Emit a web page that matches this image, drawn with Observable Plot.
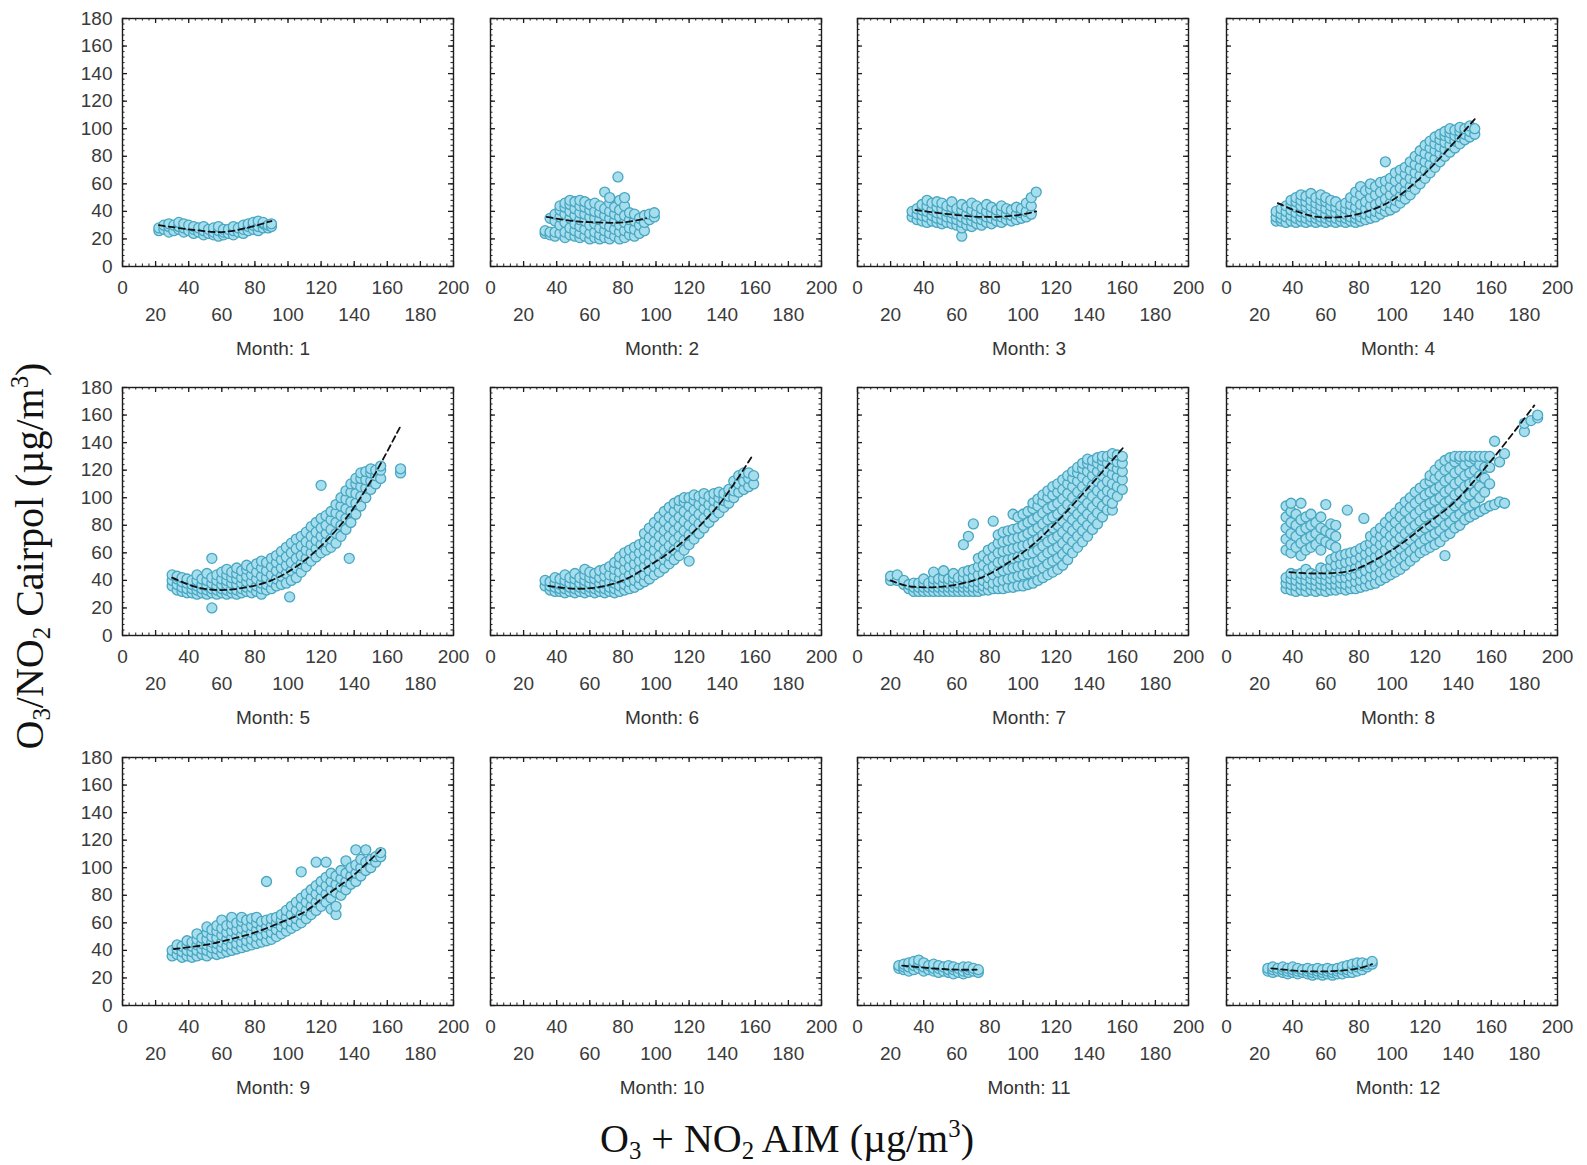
<!DOCTYPE html>
<html>
<head>
<meta charset="utf-8">
<script src="https://cdn.jsdelivr.net/npm/d3@7"></script>
<script src="https://cdn.jsdelivr.net/npm/@observablehq/plot@0.6"></script>
<style>
  body { margin: 0; background: #fff; }
  #fig { position: relative; width: 1587px; height: 1165px; background: #fff; overflow: hidden; }
  .panel { position: absolute; }
  .title { position: absolute; font-family: "Liberation Serif", "Times New Roman", serif; font-size: 40px; color: #111; white-space: nowrap; line-height: 1.25; }
  .title sub { font-size: 0.62em; vertical-align: -0.3em; line-height: 0; }
  .title sup { font-size: 0.62em; vertical-align: 0.6em; line-height: 0; }
</style>
</head>
<body>
<div id="fig"></div>
<script>
// Tick values shared by every panel
const xTicksTop = [0, 40, 80, 120, 160, 200];
const xTicksBottom = [20, 60, 100, 140, 180];
const yTicks = [0, 20, 40, 60, 80, 100, 120, 140, 160, 180];

// Observations per month: [O3+NO2 AIM, [O3/NO2 Cairpol values at that AIM level]]
const month1 = [
  [22,[26,28]],[25,[27,30]],[28,[25,29,31]],[31,[26,30]],[34,[27,29,32]],[37,[25,28,31]],
  [40,[26,30]],[43,[24,27,29]],[46,[25,28]],[49,[23,26,29]],[52,[24,27]],[55,[23,25,28]],
  [58,[22,26,29]],[61,[23,25,27]],[64,[24,27]],[67,[23,26,29]],[70,[25,28]],[73,[24,27,30]],
  [76,[26,29,31]],[79,[27,30,32]],[82,[26,29,33]],[85,[28,31,32]],[88,[28,30]],[90,[29,31]]
];
const month2 = [
  [33,[24,26]],[36,[23,25,35]],[39,[22,25,33,38]],[42,[24,30,36,41,44]],[45,[21,25,32,38,43,46]],
  [48,[23,28,35,40,45,48]],[51,[22,26,31,37,42,47]],[54,[21,24,29,34,39,44,48]],[57,[22,27,33,38,43,47]],
  [60,[20,24,30,36,41,45]],[63,[21,25,31,35,40,46]],[66,[20,23,28,34,39,44]],[69,[21,26,31,37,42,54]],
  [72,[20,24,29,35,40,46,50]],[75,[22,27,33,38,43]],[77,[65]],[78,[20,25,30,36,41,48]],[81,[21,26,32,37,44,50]],
  [84,[23,28,34,39]],[87,[22,27,33,38]],[90,[24,30,35]],[93,[26,32,37]],[96,[34,38]],[99,[36,39]]
];
const month3 = [
  [33,[36,40]],[36,[34,38,42]],[39,[33,37,41,45]],[42,[32,36,40,44,48]],[45,[33,37,41,46]],
  [48,[32,35,39,43,47]],[51,[31,34,38,42,46]],[54,[32,36,40,44]],[57,[31,35,39,43,47]],
  [60,[30,34,38,42]],[63,[22,28,32,36,41,45]],[66,[30,34,38,43]],[69,[29,33,37,41,46]],
  [72,[31,35,39,44]],[75,[30,34,38,42]],[78,[32,36,40,45]],[81,[31,35,39,43]],[84,[33,37,41]],
  [87,[32,36,40,44]],[90,[34,38,42]],[93,[33,37,41]],[96,[34,38,43]],[99,[35,39,42]],
  [102,[36,40,46]],[105,[38,44,50]],[108,[54]]
];
const month4 = [
  [30,[33,36,40]],[33,[33,35,38,42]],[36,[32,36,40,44]],[39,[33,37,41,45,48]],[42,[32,35,39,43,47,50]],
  [45,[33,36,40,44,48,52]],[48,[32,35,39,43,47,51]],[51,[33,36,40,44,48,53]],[54,[32,35,38,42,46,50]],
  [57,[33,36,40,44,48,52]],[60,[32,35,38,42,47,50]],[63,[33,36,40,44,48]],[66,[32,35,39,43,47]],
  [69,[33,36,40,44]],[72,[32,35,38,42,46]],[75,[33,36,40,45,50]],[78,[32,35,38,43,48,54]],
  [81,[33,36,40,45,52,58]],[84,[34,38,42,47,55]],[87,[35,39,44,50,56,60]],[90,[36,40,45,52,58]],
  [93,[38,42,47,54,61]],[96,[40,44,49,56,62,76]],[99,[41,46,52,58,64]],[102,[43,48,55,62,68]],
  [105,[46,51,57,64,70]],[108,[49,55,61,67,72]],[111,[52,58,64,70,76]],[114,[56,62,68,74,80]],
  [117,[60,66,72,78,84]],[120,[64,70,76,82,88]],[123,[68,74,80,86,91]],[126,[72,78,84,89,94]],
  [129,[76,82,87,92,96]],[132,[80,85,90,95,98]],[135,[83,88,93,97,100]],[138,[86,91,95,99]],
  [141,[89,94,98,101]],[144,[92,96,100]],[147,[94,98,102]],[150,[96,100]]
];
const month5 = [
  [30,[36,40,44]],[33,[33,37,41,43]],[36,[32,35,39,42]],[39,[31,34,38,41]],[42,[31,34,37,40]],
  [45,[30,33,36,40,44]],[48,[31,34,37,41]],[51,[30,33,36,40,45]],[54,[20,31,34,38,42,56]],
  [57,[30,33,36,40,44]],[60,[31,34,37,41,46]],[63,[30,33,37,40,44,48]],[66,[31,34,38,42,46]],
  [69,[30,33,37,41,45,49]],[72,[31,34,38,42,47]],[75,[32,35,39,43,48,51]],[78,[31,35,39,44,49]],
  [81,[32,36,41,46,52]],[84,[30,34,38,43,49,54]],[87,[33,37,42,47,53]],[90,[34,39,44,50,56]],
  [93,[36,41,47,53,58]],[96,[37,43,49,55,61]],[99,[38,45,51,57,64]],[101,[28]],[102,[40,47,53,60,67]],
  [105,[42,49,56,63,70]],[108,[46,52,58,65,72]],[111,[50,56,62,68,75]],[114,[54,60,66,72,79]],
  [117,[57,63,69,75,82]],[120,[60,66,72,78,85,109]],[123,[62,68,74,80,87]],[126,[64,70,77,84,90]],
  [129,[67,74,82,89,95]],[132,[72,80,87,94,100]],[135,[77,85,92,99,105]],[137,[56]],
  [138,[82,90,97,104,110]],[141,[88,96,103,110,114]],[144,[94,101,108,114,118]],[147,[100,107,113,119]],
  [150,[106,112,118,121]],[153,[110,116,120]],[156,[114,120,123]],[168,[118,121]]
];
const month6 = [
  [33,[36,40]],[36,[33,36,39]],[39,[32,35,38,42]],[42,[32,34,37,41]],[45,[31,34,37,40,44]],
  [48,[32,35,38,42]],[51,[31,34,37,41,45]],[54,[32,35,38,42]],[57,[31,34,37,40,44,48]],
  [60,[32,35,38,42,46]],[63,[31,34,37,41,45]],[66,[32,35,38,42,47]],[69,[31,34,38,43,48]],
  [72,[32,35,39,44,50]],[75,[31,34,38,43,48,53]],[78,[32,36,41,46,52,57]],[81,[33,37,42,48,54,60]],
  [84,[34,39,44,50,56,62]],[87,[35,40,46,52,58,64]],[90,[37,42,48,54,60,66]],[93,[39,44,50,56,62,68,74]],
  [96,[41,47,53,59,65,71,78]],[99,[44,50,56,62,68,75,82]],[102,[46,52,58,65,72,79,86]],
  [105,[49,55,62,69,76,83,90]],[108,[52,58,65,72,79,86,93]],[111,[55,62,69,76,83,90,96]],
  [114,[58,65,72,79,86,93,98]],[117,[62,69,76,83,90,97,100]],[120,[54,66,73,80,87,94,100]],
  [123,[70,77,84,91,98,102]],[126,[74,81,88,95,101]],[129,[78,85,92,98,103]],[132,[82,89,95,101]],
  [135,[86,92,98,103]],[138,[89,95,100,104]],[141,[93,98,103]],[144,[96,101,106]],
  [147,[100,105,112]],[150,[104,110,116]],[153,[106,112,118]],[156,[108,114,118]],[159,[110,116]]
];
const month7 = [
  [20,[40,43]],[24,[40,44]],[28,[37,40]],[31,[34,37]],[34,[32,35,38]],[37,[32,35,38]],
  [40,[32,35,38,41]],[43,[32,35,38]],[46,[32,35,38,41,46]],[49,[32,35,38,41]],[52,[32,35,38,42,47]],
  [55,[32,35,38,41]],[58,[32,35,38,42,45]],[61,[32,35,38,42]],[64,[32,35,38,42,46,66]],
  [67,[32,35,38,42,47,72]],[70,[32,35,39,43,48,81]],[73,[32,35,39,44,50,56]],[76,[33,36,40,45,51,58]],
  [79,[33,37,42,48,55,62]],[82,[34,38,44,50,57,64,83]],[85,[34,39,46,53,60,67,73]],
  [88,[34,40,47,54,61,68,75]],[91,[35,41,48,55,62,69,76]],[94,[35,42,49,56,63,70,77,88]],
  [97,[36,43,50,57,64,71,78,86]],[100,[36,44,51,58,65,72,80,88]],[103,[37,45,52,59,66,74,82,90]],
  [106,[38,46,53,60,68,76,84,92,96]],[109,[40,47,54,62,70,78,86,94,99]],[112,[42,49,57,65,73,81,89,97,102]],
  [115,[44,52,60,68,76,84,92,100,105]],[118,[46,54,62,70,78,86,94,102,108]],[121,[48,56,64,72,80,88,96,104,110]],
  [124,[51,59,67,75,83,91,99,106,113]],[127,[55,63,71,79,87,95,103,110,116]],[130,[60,68,76,84,92,100,108,114,119]],
  [133,[64,72,80,88,96,104,112,118,122]],[136,[68,76,84,92,100,108,115,121,125]],[139,[72,80,88,96,104,112,119,125,128]],
  [142,[77,85,93,101,109,116,122,127]],[145,[81,89,97,105,112,119,125,129]],[148,[86,94,102,109,116,122,127,130]],
  [151,[91,98,105,112,119,125,130]],[154,[91,96,103,110,117,123,128,132]],[157,[101,108,115,121,126,131]],
  [160,[106,113,119,125,130]]
];
const month8 = [
  [36,[34,38,42,62,70,78,86,94]],[39,[33,37,41,45,60,66,74,82,90,96]],[42,[32,36,40,44,64,72,80,88]],
  [45,[33,37,41,45,58,67,76,84,96]],[48,[32,36,40,44,48,62,70,78,86]],[51,[33,37,41,45,64,72,80,88]],
  [54,[32,36,40,44,66,74,82]],[57,[33,37,41,45,49,62,70,78,86]],[60,[32,36,40,44,48,68,76,95]],
  [63,[33,37,41,45,50,55,66,74,81]],[66,[33,37,41,46,51,57,64,72,80]],[69,[34,38,42,47,52,58]],
  [72,[33,37,42,47,53,59]],[73,[91]],[75,[34,38,43,48,54,60]],[78,[34,39,44,49,55,61]],
  [81,[35,40,45,51,57,63]],[83,[85]],[84,[36,41,47,53,59,65]],[87,[37,43,49,55,61,67,72]],
  [90,[38,44,50,57,63,69,75]],[93,[40,46,53,59,66,72,78]],[96,[42,48,55,62,68,75,82]],
  [99,[44,51,58,65,72,79,86]],[102,[46,53,60,68,75,82,89]],[105,[48,56,63,71,78,86,93]],
  [108,[51,58,66,74,82,90,97]],[111,[54,61,69,77,85,93,100]],[114,[57,64,72,80,88,96,104]],
  [117,[60,67,75,83,91,99,107]],[120,[62,70,78,86,94,102,110]],[123,[64,72,80,88,96,104,112,116]],
  [126,[66,74,82,90,98,106,114,120]],[129,[68,76,84,92,100,108,116,124]],[132,[58,72,80,88,96,104,112,120,127]],
  [135,[74,82,90,98,106,114,122,129]],[138,[78,86,94,102,110,118,126,130]],[141,[80,88,96,104,112,120,128,130]],
  [144,[84,92,100,108,116,124,130]],[147,[86,94,102,110,118,126,130]],[150,[88,96,104,112,120,128,130]],
  [153,[90,100,108,116,124,130]],[156,[92,104,114,122,130]],[159,[94,110,122,130]],[162,[95,141]],
  [165,[97,126]],[168,[96,132]],[180,[148,154]],[184,[156]],[188,[158,160]]
];
const month9 = [
  [30,[36,40]],[33,[37,41,44]],[36,[35,39,43]],[39,[36,40,44,47]],[42,[35,39,43,46]],
  [45,[36,40,44,48,52]],[48,[37,41,45,49]],[51,[36,40,44,48,53,57]],[54,[38,42,46,50,55]],
  [57,[37,41,45,49,54,58]],[60,[38,42,46,51,56,62]],[63,[39,43,48,53,58]],[66,[40,44,49,54,59,64]],
  [69,[41,45,50,55,60]],[72,[42,46,51,56,61,64]],[75,[43,47,52,57,62]],[78,[44,48,53,58,63]],
  [81,[45,50,55,60,64]],[84,[46,51,56,61]],[87,[47,52,57,62,90]],[90,[48,53,58,63]],
  [93,[50,55,60,64]],[96,[52,57,62,66]],[99,[54,59,64,69]],[102,[56,61,66,72]],[105,[58,63,69,75]],
  [108,[60,66,72,78,97]],[111,[63,69,75,81]],[114,[66,72,78,84]],[117,[69,75,81,87,104]],
  [120,[72,78,84,90]],[123,[75,81,87,93,104]],[126,[70,78,84,90,96]],[129,[66,72,82,88,94]],
  [132,[80,86,92,98]],[135,[84,90,96,105]],[138,[88,94,100]],[141,[90,96,102,113]],
  [144,[94,100,106]],[147,[98,104,113]],[150,[100,106]],[153,[104,108]],[156,[108,111]]
];
const month10 = [];
const month11 = [
  [25,[27,29]],[28,[26,28,30]],[31,[25,28,31]],[34,[26,29,32]],[37,[27,30,33]],[40,[25,28,31]],
  [43,[26,29]],[46,[25,27,30]],[49,[24,27,29]],[52,[25,28]],[55,[24,26,29]],[58,[23,26,28]],
  [61,[24,27]],[64,[23,25,28]],[67,[24,26,28]],[70,[25,27]],[73,[24,26]]
];
const month12 = [
  [25,[25,27]],[28,[24,26,28]],[31,[25,27]],[34,[24,26,28]],[37,[23,25,27]],[40,[24,26,28]],
  [43,[23,25,27]],[46,[24,26]],[49,[23,25,27]],[52,[22,24,26]],[55,[23,25,27]],[58,[22,24,26]],
  [61,[23,25,27]],[64,[22,24,26]],[67,[23,25,27]],[70,[23,26,28]],[73,[24,26,29]],[76,[24,27,30]],
  [79,[25,28,31]],[82,[26,29,31]],[85,[28,30]],[88,[30,32]]
];

// Fitted trend per month: [AIM, Cairpol]
const fit1 = [[22,30],[40,27],[60,25],[75,28],[90,33]];
const fit2 = [[34,36],[50,33],[65,32],[80,32],[94,35]];
const fit3 = [[35,41],[55,38],[75,36],[95,37],[108,40]];
const fit4 = [[31,46],[45,39],[55,36],[70,36],[85,40],[100,48],[115,62],[130,80],[150,107]];
const fit5 = [[30,42],[45,35],[60,33],[75,35],[90,40],[105,50],[120,65],[135,85],[150,112],[168,152]];
const fit6 = [[35,36],[50,34],[65,35],[80,40],[95,50],[110,62],[125,78],[140,98],[158,130]];
const fit7 = [[20,40],[30,36],[45,35],[60,37],[75,42],[90,52],[105,65],[120,82],[140,108],[161,137]];
const fit8 = [[38,46],[55,45],[75,47],[90,55],[105,66],[120,80],[137,96],[160,127],[186,167]];
const fit9 = [[31,41],[50,44],[65,48],[80,53],[95,60],[110,68],[122,79],[140,95],[156,113]];
const fit10 = [];
const fit11 = [[27,29],[45,27],[60,26],[72,26]];
const fit12 = [[27,27],[45,25],[65,25],[80,27],[88,30]];

const panels = [
  {month: 1, obs: month1, fit: fit1}, {month: 2, obs: month2, fit: fit2},
  {month: 3, obs: month3, fit: fit3}, {month: 4, obs: month4, fit: fit4},
  {month: 5, obs: month5, fit: fit5}, {month: 6, obs: month6, fit: fit6},
  {month: 7, obs: month7, fit: fit7}, {month: 8, obs: month8, fit: fit8},
  {month: 9, obs: month9, fit: fit9}, {month: 10, obs: month10, fit: fit10},
  {month: 11, obs: month11, fit: fit11}, {month: 12, obs: month12, fit: fit12}
];

// Grid geometry (plot frame of each small multiple)
const frameW = 331, frameH = 248;
const colLeft = [122, 490, 857, 1226];
const rowTop = [18, 387, 757];
const mL = 60, mR = 20, mT = 10, mB = 100;

const xMinor = d3.range(0, 201, 4);
const xMajor = d3.range(0, 201, 20);
const yMinor = d3.range(0, 181, 4);
const yMajor = d3.range(0, 181, 20);
const ink = "#1c1c1c";

const fig = document.getElementById("fig");

panels.forEach((p, i) => {
  const r = Math.floor(i / 4), c = i % 4;
  const pts = p.obs.flatMap(([x, ys]) => ys.map(y => ({x, y})));
  const marks = [
    Plot.dot(pts, {x: "x", y: "y", r: 5, fill: "#a6deee", stroke: "#48a6c1", strokeWidth: 1.3}),
    Plot.line(p.fit, {x: d => d[0], y: d => d[1], curve: "catmull-rom", stroke: "#111", strokeWidth: 1.8, strokeDasharray: "6,4"}),
    // inward ticks on all four sides
    Plot.tickX(xMinor, {x: d => d, insetTop: frameH - 2.5, stroke: ink}),
    Plot.tickX(xMinor, {x: d => d, insetBottom: frameH - 2.5, stroke: ink}),
    Plot.tickX(xMajor, {x: d => d, insetTop: frameH - 5, stroke: ink, strokeWidth: 1.3}),
    Plot.tickX(xMajor, {x: d => d, insetBottom: frameH - 5, stroke: ink, strokeWidth: 1.3}),
    Plot.tickY(yMinor, {y: d => d, insetRight: frameW - 2.5, stroke: ink}),
    Plot.tickY(yMinor, {y: d => d, insetLeft: frameW - 2.5, stroke: ink}),
    Plot.tickY(yMajor, {y: d => d, insetRight: frameW - 5, stroke: ink, strokeWidth: 1.3}),
    Plot.tickY(yMajor, {y: d => d, insetLeft: frameW - 5, stroke: ink, strokeWidth: 1.3}),
    Plot.frame({stroke: ink, strokeWidth: 1.4}),
    Plot.axisX({ticks: xTicksTop, tickFormat: d => d, tickSize: 0, tickPadding: 14, label: null}),
    Plot.axisX({ticks: xTicksBottom, tickFormat: d => d, tickSize: 0, tickPadding: 41, label: null}),
    Plot.text([`Month: ${p.month}`], {text: d => d, frameAnchor: "bottom", dy: 88, dx: c === 0 ? -15 : 6, fontSize: 19, fill: "#333"})
  ];
  if (c === 0) {
    marks.push(Plot.axisY({ticks: yTicks, tickFormat: d => d, tickSize: 0, tickPadding: 10, label: null}));
  }
  const chart = Plot.plot({
    width: frameW + mL + mR,
    height: frameH + mT + mB,
    marginLeft: mL, marginRight: mR, marginTop: mT, marginBottom: mB,
    x: {domain: [0, 200], label: null},
    y: {domain: [0, 180], label: null, axis: c === 0 ? undefined : null},
    style: {fontFamily: "'Liberation Sans', Arial, sans-serif", fontSize: "19px", color: "#3a3a3a", background: "transparent", overflow: "visible"},
    marks
  });
  chart.classList.add("panel");
  chart.style.left = (colLeft[c] - mL) + "px";
  chart.style.top = (rowTop[r] - mT) + "px";
  fig.appendChild(chart);
});

// Shared axis titles
const yTitle = document.createElement("div");
yTitle.className = "title";
yTitle.innerHTML = "O<sub>3</sub>/NO<sub>2</sub> Cairpol (µg/m<sup>3</sup>)";
yTitle.style.left = "30px";
yTitle.style.top = "556px";
yTitle.style.transform = "translate(-50%, -50%) rotate(-90deg)";
fig.appendChild(yTitle);

const xTitle = document.createElement("div");
xTitle.className = "title";
xTitle.innerHTML = "O<sub>3</sub> + NO<sub>2</sub> AIM (µg/m<sup>3</sup>)";
xTitle.style.left = "787px";
xTitle.style.top = "1114px";
xTitle.style.transform = "translateX(-50%)";
fig.appendChild(xTitle);
</script>
</body>
</html>
